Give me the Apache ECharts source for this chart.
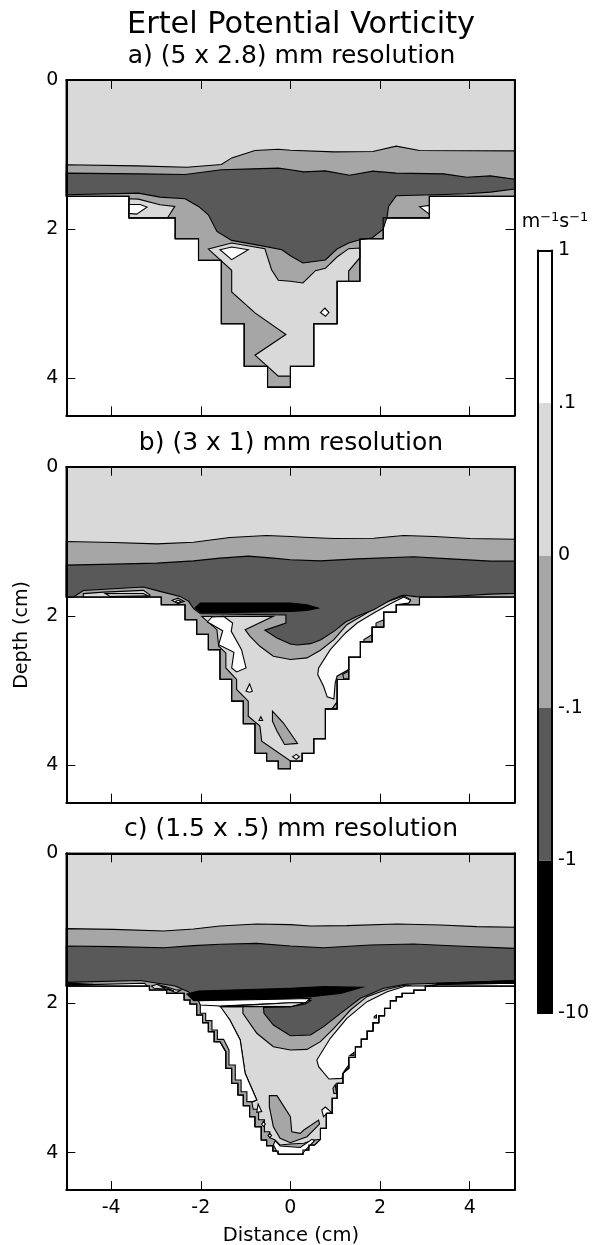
<!DOCTYPE html>
<html><head><meta charset="utf-8">
<style>html,body{margin:0;padding:0;background:#fff}#c{width:592px;height:1245px}</style>
<script src="https://cdn.jsdelivr.net/npm/echarts@6/dist/echarts.min.js"></script>
</head><body><div id="c"></div>
<script>
const WHITE='#ffffff',LIGHT='#d9d9d9',MID='#a6a6a6',DARK='#595959',BLACK='#000000';
const colorbarLabels=['-10','-1','-.1','0','.1','1'];
const colorbarBands=[1,1,1,1,1];
const colorbarColors=[BLACK,DARK,MID,LIGHT,WHITE];
const distanceTicks=[-4,-2,0,2,4];
const depthTicks=[0,2,4];

/* ---------- panel a: [distance cm, depth cm] ---------- */
const aFloor=[[5,1.56],[3.1,1.56],[3.1,1.85],[2.07,1.85],[2.07,2.13],[1.55,2.13],[1.55,2.70],[1.04,2.70],[1.04,3.27],[.52,3.27],[.52,3.84],[0,3.84],[0,4.12],[-.51,4.12],[-.51,3.84],[-1.03,3.84],[-1.03,3.27],[-1.54,3.27],[-1.54,2.42],[-2.05,2.42],[-2.05,2.13],[-2.57,2.13],[-2.57,1.85],[-3.6,1.85],[-3.6,1.56],[-5,1.56]];
const aMidTop=[[-5,1.138],[-3.43,1.152],[-2.31,1.17],[-1.54,1.134],[-1.31,1.045],[-.79,.946],[-.27,.929],[0,.942],[.97,.964],[1.84,.96],[2.36,.888],[2.88,.946],[5,.951]];
const aDarkTop=[[-5,1.25],[-3.39,1.259],[-2.35,1.268],[-1.54,1.205],[-.83,1.192],[-.27,1.183],[0,1.205],[.3,1.232],[.78,1.219],[1.32,1.277],[1.84,1.223],[2.36,1.25],[3.42,1.259],[3.94,1.304],[4.46,1.286],[5,1.33]];
const aDarkBottom=[[5,1.464],[4.46,1.504],[3.94,1.527],[3.42,1.536],[2.36,1.554],[2.19,1.696],[2.16,1.83],[2.07,2.0],[1.82,2.12],[1.55,2.143],[1.3,2.188],[1.04,2.268],[.78,2.415],[.28,2.455],[0,2.357],[-.19,2.277],[-.57,2.232],[-1.31,2.152],[-1.64,2.031],[-1.83,1.808],[-2.05,1.696],[-2.35,1.594],[-2.91,1.571],[-3.39,1.518],[-5,1.54]];
const aLightLower=[[1.55,2.254],[1.3,2.263],[1.04,2.375],[.78,2.527],[.56,2.558],[.28,2.723],[0,2.7],[-.27,2.688],[-.42,2.545],[-.57,2.263],[-1.31,2.188],[-1.83,2.268],[-1.31,2.554],[-1.31,2.844],[-.79,3.125],[-.1,3.415],[-.79,3.692],[-.27,3.973],[0,3.973],[0,3.84],[.52,3.84],[.52,3.27],[1.04,3.27],[1.04,2.7],[1.3,2.7],[1.3,2.563],[1.55,2.384]];
const aLightLeft=[[-3.6,1.594],[-3.39,1.598],[-2.91,1.674],[-2.58,1.696],[-2.74,1.848],[-3.6,1.848]];
const aWhiteLeft=[[-3.6,1.67],[-3.35,1.67],[-3.2,1.705],[-3.43,1.8],[-3.6,1.79]];
const aWhiteCentre=[[-1.57,2.277],[-1.31,2.241],[-.94,2.277],[-1.31,2.41]];
const aWhiteDot=[[.67,3.12],[.77,3.06],[.86,3.12],[.78,3.17]];
const aWhiteRight=[[2.88,1.7],[3.1,1.683],[3.1,1.8]];

/* ---------- panel b ---------- */
const bFloor=[[5,1.746],[2.88,1.746],[2.88,1.849],[2.36,1.849],[2.36,1.947],[2.08,1.947],[2.08,2.147],[1.82,2.147],[1.82,2.343],[1.56,2.343],[1.56,2.548],[1.3,2.548],[1.3,2.851],[1.04,2.851],[1.04,3.243],[.78,3.243],[.78,3.644],[.52,3.644],[.52,3.84],[.26,3.84],[.26,3.942],[0,3.942],[0,4.045],[-.27,4.045],[-.27,3.942],[-.53,3.942],[-.53,3.84],[-.79,3.84],[-.79,3.443],[-1.05,3.443],[-1.05,3.14],[-1.31,3.14],[-1.31,2.846],[-1.57,2.846],[-1.57,2.45],[-1.83,2.45],[-1.83,2.245],[-2.09,2.245],[-2.09,2.049],[-2.35,2.049],[-2.35,1.849],[-2.88,1.849],[-2.88,1.746],[-5,1.746]];
const bMidTop=[[-5,1.002],[-3.95,1.016],[-2.98,1.033],[-2.16,1.011],[-1.35,.949],[-.53,.922],[0,.935],[.3,.944],[.97,.962],[1.86,.958],[2.53,.922],[3.2,.935],[4.01,.962],[5,.971]];
const bDarkTop=[[-5,1.318],[-3.95,1.305],[-2.98,1.292],[-2.16,1.261],[-1.57,1.225],[-.94,1.198],[-.38,1.225],[0,1.247],[.67,1.261],[1.49,1.234],[2.75,1.207],[3.57,1.234],[4.46,1.265],[5,1.265]];
const bDarkBottom=[[5,1.697],[4.46,1.706],[3.94,1.724],[3.42,1.742],[2.88,1.746],[2.75,1.737],[2.51,1.719],[2.23,1.79],[1.86,1.915],[1.49,2.004],[1.23,2.08],[.97,2.205],[.67,2.32],[.45,2.37],[.15,2.388],[0,2.374],[-.3,2.294],[-.57,2.19],[-.1,2.094],[-.1,1.987],[-2.01,1.969],[-2.16,1.902],[-2.27,1.804],[-2.46,1.737],[-2.91,1.67],[-3.28,1.612],[-4.62,1.657],[-4.84,1.746],[-5,1.746]];
const bLightLens=[[-4.62,1.7],[-4.17,1.68],[-3.28,1.657],[-3.13,1.72],[-3.17,1.746],[-4.62,1.746]];
const bWhiteLens=[[-4.13,1.7],[-3.28,1.7],[-3.17,1.73],[-4.02,1.737]];
const bLightDiamond=[[-2.64,1.79],[-2.51,1.76],[-2.37,1.804],[-2.51,1.835]];
const bWhiteDiamond=[[-2.56,1.804],[-2.51,1.786],[-2.44,1.804],[-2.51,1.826]];
const bLightBody=[[2.53,1.73],[2.08,1.826],[1.6,1.996],[1.26,2.116],[.97,2.316],[.67,2.459],[.37,2.561],[0,2.583],[-.38,2.539],[-.68,2.405],[-.9,2.272],[-1.01,2.183],[-.38,2.004],[-1.98,2.004],[-1.64,2.183],[-1.6,2.405],[-1.44,2.494],[-1.44,2.695],[-1.2,2.85],[-1.2,2.984],[-.94,3.14],[-.94,3.341],[-.68,3.474],[-.64,3.675],[0,3.942],[.26,3.942],[.26,3.84],[.52,3.84],[.52,3.644],[.78,3.644],[.78,3.243],[.93,3.243],[1.04,3.154],[1.04,2.851],[1.02,2.806],[1.3,2.717],[1.3,2.548],[1.56,2.548],[1.56,2.343],[1.82,2.343],[1.82,2.147],[2.08,2.147],[2.08,1.947],[2.36,1.947],[2.36,1.849],[2.64,1.826],[2.68,1.782]];
const bWhiteRight=[[2.53,1.746],[2.23,1.835],[1.86,1.96],[1.49,2.094],[1.23,2.227],[.89,2.45],[.63,2.695],[.61,2.784],[.74,2.94],[.82,3.082],[.97,3.11],[1,2.895],[1.04,2.806],[1.3,2.717],[1.3,2.548],[1.56,2.548],[1.56,2.343],[1.82,2.343],[1.82,2.147],[2.08,2.147],[2.08,1.947],[2.36,1.947],[2.36,1.849],[2.64,1.826],[2.68,1.79]];
const bMidStep1=[[1.19,2.842],[1.3,2.842],[1.3,2.74],[1.17,2.78]];
const bMidStep2=[[1.64,2.343],[1.82,2.343],[1.82,2.25],[1.64,2.316]];
const bMidStep3=[[1.91,2.147],[2.08,2.147],[2.08,2.05],[1.91,2.094]];
const bMidStep4=[[.93,3.243],[1.04,3.243],[1.04,3.154]];
const bWhiteBlob=[[-1.85,2.08],[-1.75,2.013],[-1.49,2.004],[-1.29,2.094],[-1.32,2.205],[-1.09,2.45],[-.99,2.695],[-1.2,2.748],[-1.31,2.695],[-1.26,2.485],[-1.6,2.383],[-1.51,2.196]];
const bWhiteDot1=[[-.91,2.909],[-.85,3.006],[-.91,3.02],[-.99,3.006]];
const bWhiteDot2=[[-.66,3.35],[-.62,3.4],[-.7,3.4]];
const bWhiteDot3=[[.13,3.853],[.2,3.884],[.13,3.92],[.05,3.884]];
const bMidBlob=[[-.4,3.274],[-.16,3.43],[.16,3.706],[-.13,3.72],[-.3,3.541],[-.4,3.408]];
const bBlackBand=[[-2.13,1.893],[-2.01,1.826],[0,1.826],[.37,1.849],[.62,1.893],[.37,1.924],[0,1.938],[-1.98,1.96]];

/* ---------- panel c ---------- */
const cFloor=[[5,1.773],[3.01,1.773],[3.01,1.826],[2.75,1.826],[2.75,1.871],[2.49,1.871],[2.49,1.915],[2.36,1.915],[2.36,1.969],[2.23,1.969],[2.23,2.071],[2.1,2.071],[2.1,2.169],[1.97,2.169],[1.97,2.263],[1.84,2.263],[1.84,2.374],[1.71,2.374],[1.71,2.481],[1.58,2.481],[1.58,2.584],[1.45,2.584],[1.45,2.726],[1.3,2.726],[1.3,2.873],[1.17,2.94],[1.17,3.073],[1.04,3.073],[1.04,3.274],[.93,3.274],[.93,3.474],[.8,3.474],[.8,3.675],[.67,3.675],[.67,3.822],[.54,3.898],[.41,3.898],[.41,3.964],[.28,3.964],[.28,4.022],[-.27,4.022],[-.27,3.978],[-.39,3.978],[-.39,3.906],[-.53,3.906],[-.53,3.831],[-.65,3.831],[-.65,3.653],[-.79,3.653],[-.79,3.519],[-.91,3.519],[-.91,3.372],[-1.05,3.372],[-1.05,3.229],[-1.17,3.229],[-1.17,3.073],[-1.31,3.073],[-1.31,2.873],[-1.44,2.873],[-1.44,2.65],[-1.57,2.517],[-1.7,2.517],[-1.7,2.383],[-1.83,2.383],[-1.83,2.263],[-1.96,2.263],[-1.96,2.16],[-2.09,2.16],[-2.09,2.013],[-2.24,2.013],[-2.24,1.96],[-2.37,1.96],[-2.37,1.871],[-2.76,1.871],[-2.76,1.826],[-3.145,1.826],[-3.145,1.773],[-5,1.773]];
const cMidTop=[[-5,1.007],[-3.95,1.016],[-2.83,1.038],[-2.16,1.011],[-1.57,.971],[-.75,.944],[0,.953],[.45,.971],[1.26,.967],[2.38,.944],[3.35,.958],[4.16,.98],[5,.989]];
const cDarkTop=[[-5,1.238],[-3.95,1.247],[-2.83,1.261],[-2.16,1.234],[-1.57,1.216],[-.75,1.203],[-.0,1.238],[.74,1.261],[1.78,1.225],[2.75,1.212],[3.72,1.238],[5,1.27]];
const cDarkBottom=[[5,1.7],[3.27,1.737],[2.57,1.75],[2.08,1.804],[1.56,1.938],[1.12,2.138],[.74,2.316],[.45,2.428],[0,2.437],[-.38,2.294],[-.59,2.138],[-.6,2.058],[0,2.049],[.33,2.013],[.45,1.969],[0,1.947],[-2.05,1.969],[-2.28,1.849],[-2.57,1.773],[-3.35,1.7],[-5,1.724]];
const cLightBody=[[-1.58,2.049],[-1.06,2.049],[-1.06,2.138],[-.75,2.405],[-.38,2.584],[0,2.628],[.37,2.62],[.67,2.517],[.97,2.339],[1.34,2.094],[1.71,1.915],[2.16,1.817],[2.57,1.759],[2.75,1.782],[2.75,1.871],[2.49,1.871],[2.49,1.915],[2.36,1.915],[2.36,1.969],[2.23,1.969],[2.23,2.071],[2.1,2.071],[2.1,2.169],[1.97,2.169],[1.97,2.263],[1.84,2.263],[1.84,2.374],[1.71,2.374],[1.71,2.481],[1.58,2.481],[1.58,2.584],[1.45,2.584],[1.45,2.726],[1.3,2.726],[1.3,2.873],[1.17,2.94],[1.17,3.073],[1.04,3.073],[1.04,3.274],[.93,3.274],[.93,3.474],[.8,3.474],[.8,3.675],[.67,3.675],[.67,3.822],[.52,3.831],[.3,3.875],[0,3.884],[-.23,3.898],[-.34,3.831],[-.46,3.8],[-.46,3.72],[-.58,3.72],[-.58,3.56],[-.71,3.56],[-.71,3.42],[-.83,3.42],[-.86,3.327],[-.75,3.296],[-1.01,2.94],[-1.12,2.494],[-1.35,2.227]];
const cWhiteLeft=[[-2.05,1.969],[-1.57,2.04],[-1.35,2.227],[-1.12,2.494],[-1.01,2.94],[-.75,3.296],[-.84,3.318],[-.97,3.318],[-.97,3.185],[-1.1,3.185],[-1.1,3.029],[-1.23,3.029],[-1.23,2.829],[-1.37,2.829],[-1.37,2.628],[-1.49,2.486],[-1.63,2.486],[-1.63,2.36],[-1.75,2.36],[-1.75,2.236],[-1.89,2.236],[-1.89,2.138],[-2.01,2.138],[-2.01,2.013]];
const cWhiteRight=[[2.57,1.773],[2.16,1.849],[1.71,1.982],[1.26,2.205],[.89,2.472],[.59,2.762],[.63,2.851],[.86,3.016],[1.15,3.007],[1.17,2.94],[1.3,2.873],[1.3,2.726],[1.45,2.726],[1.45,2.584],[1.58,2.584],[1.58,2.481],[1.71,2.481],[1.71,2.374],[1.84,2.374],[1.84,2.263],[1.97,2.263],[1.97,2.169],[2.1,2.169],[2.1,2.071],[2.23,2.071],[2.23,1.969],[2.36,1.969],[2.36,1.915],[2.49,1.915],[2.49,1.871],[2.75,1.871],[2.75,1.826],[3.01,1.826],[3.01,1.773]];
const cWhiteLensRight=[[3.31,1.751],[5,1.737],[5,1.773],[3.01,1.773]];
const cBlackRight=[[3.27,1.737],[5,1.7],[5,1.737],[3.31,1.751]];
const cWhiteLensLeft=[[-4.5,1.755],[-3.25,1.737],[-3.2,1.773],[-5,1.773],[-5,1.76]];
const cBlackLeft=[[-5,1.735],[-4.4,1.75],[-5,1.76]];
const cFleckLight=[[-3.1,1.773],[-2.97,1.75],[-2.74,1.79],[-2.55,1.826],[-2.44,1.826],[-2.55,1.862],[-2.74,1.817],[-3.04,1.804]];
const cFleckWhite=[[-2.9,1.775],[-2.75,1.8],[-2.6,1.84],[-2.8,1.81]];
const cBlackBand=[[-2.31,1.88],[-2.05,1.84],[0,1.804],[.74,1.782],[1.6,1.79],[1.12,1.871],[.45,1.915],[0,1.938],[-2.05,1.969],[-2.16,1.969]];
const cWhiteSliver=[[-2.05,1.969],[0,1.947],[.45,1.938],[.33,1.996],[0,1.996],[-1.57,2.04],[-2.01,2.027]];
const cLightSliver=[[-1.58,2.049],[0,1.996],[.33,1.996],[0,2.049]];
const cMidBlob=[[-.47,3.238],[-.3,3.238],[0,3.519],[.03,3.72],[.22,3.742],[.3,3.697],[.63,3.564],[.65,3.617],[.37,3.786],[0,3.866],[-.23,3.808],[-.38,3.653],[-.47,3.385]];
const cWhiteBottom=[[-.34,3.84],[-.23,3.911],[.22,3.93],[.48,3.822],[.54,3.84],[.37,3.942],[.26,4.018],[-.27,4.018],[-.38,3.898]];
const cDot1=[[-.72,3.35],[-.64,3.45],[-.75,3.46]];
const cDot2=[[-.6,3.58],[-.56,3.62],[-.6,3.65],[-.64,3.62]];
const cDot3=[[-.46,3.74],[-.42,3.77],[-.46,3.8],[-.5,3.77]];
const cRightDrop=[[.97,3.21],[.95,3.14],[1,3.09],[1.03,3.21]];
const cWhiteNotch=[[.7,3.43],[.78,3.39],[.93,3.47],[.82,3.47],[.74,3.52]];
const cMidStep1=[[1.87,2.2],[1.92,2.2],[1.92,2.16],[1.87,2.18]];
const cMidStep2=[[1.33,2.7],[1.42,2.7],[1.42,2.66]];
const cMidStep3=[[1.21,2.9],[1.3,2.87],[1.3,2.83]];

const panelA=[[[[-5,0],[5,0]].concat(aFloor),LIGHT],[aMidTop.concat(aFloor),MID],[aLightLower,LIGHT],[aLightLeft,LIGHT],[aDarkTop.concat(aDarkBottom),DARK],[aWhiteLeft,WHITE],[aWhiteCentre,WHITE],[aWhiteDot,WHITE],[aWhiteRight,WHITE],[[[-5,0],[5,0]].concat(aFloor),'none']];
const panelB=[[[[-5,0],[5,0]].concat(bFloor),LIGHT],[bMidTop.concat(bFloor),MID],[bLightBody,LIGHT],[bWhiteRight,WHITE],[bMidStep1,MID],[bMidStep2,MID],[bMidStep3,MID],[bMidStep4,MID],[bDarkTop.concat(bDarkBottom),DARK],[bLightLens,LIGHT],[bWhiteLens,WHITE],[bLightDiamond,LIGHT],[bWhiteDiamond,WHITE],[bBlackBand,BLACK],[bWhiteBlob,WHITE],[bWhiteDot1,WHITE],[bWhiteDot2,WHITE],[bWhiteDot3,WHITE],[bMidBlob,MID],[[[-5,0],[5,0]].concat(bFloor),'none']];
const panelC=[[[[-5,0],[5,0]].concat(cFloor),LIGHT],[cMidTop.concat(cFloor),MID],[cLightBody,LIGHT],[cWhiteLeft,WHITE],[cWhiteRight,WHITE],[cMidStep1,MID],[cMidStep2,MID],[cMidStep3,MID],[cDarkTop.concat(cDarkBottom),DARK],[cWhiteLensRight,WHITE],[cBlackRight,BLACK],[cWhiteLensLeft,WHITE],[cBlackLeft,BLACK],[cFleckLight,LIGHT],[cFleckWhite,WHITE],[cBlackBand,BLACK],[cWhiteSliver,WHITE],[cLightSliver,LIGHT],[cMidBlob,MID],[cWhiteBottom,WHITE],[cDot1,WHITE],[cDot2,WHITE],[cDot3,WHITE],[cRightDrop,MID],[cWhiteNotch,WHITE],[[[-5,0],[5,0]].concat(cFloor),'none']];
const panels=[panelA,panelB,panelC];
const panelBoxes=[{top:80,height:335.4},{top:466.7,height:336},{top:853.3,height:336.8}];

const FONT='DejaVu Sans';
const grids=[],xAxes=[],yAxes=[],series=[];
panelBoxes.forEach((box,i)=>{
  grids.push({left:66.3,width:448.2,top:box.top,height:box.height,containLabel:false});
  const line={show:true,onZero:false,lineStyle:{color:'#000',width:2}};
  const tick=(vals)=>({show:true,inside:true,length:9,customValues:vals,lineStyle:{color:'#000',width:1}});
  xAxes.push({gridIndex:i,type:'value',min:-5,max:5,position:'bottom',z:10,axisLine:line,axisTick:tick(distanceTicks),splitLine:{show:false},
    axisLabel:{show:i===2,customValues:distanceTicks,margin:8,color:'#000',fontFamily:FONT,fontSize:19,formatter:v=>String(v)}});
  xAxes.push({gridIndex:i,type:'value',min:-5,max:5,position:'top',z:10,axisLine:line,axisTick:tick(distanceTicks),splitLine:{show:false},axisLabel:{show:false}});
  yAxes.push({gridIndex:i,type:'value',min:0,max:4.5,inverse:true,position:'left',z:10,axisLine:line,axisTick:tick(depthTicks),splitLine:{show:false},
    axisLabel:{show:true,customValues:depthTicks,margin:8,color:'#000',fontFamily:FONT,fontSize:19,formatter:v=>String(v)}});
  yAxes.push({gridIndex:i,type:'value',min:0,max:4.5,inverse:true,position:'right',z:10,axisLine:line,axisTick:tick(depthTicks),splitLine:{show:false},axisLabel:{show:false}});
  const layers=panels[i];
  series.push({type:'custom',xAxisIndex:i*2,yAxisIndex:i*2,z:2,silent:true,clip:false,
    data:layers.map(()=>[0,0]),
    renderItem:(params,api)=>{
      const l=layers[params.dataIndex];
      return {type:'polygon',shape:{points:l[0].map(p=>api.coord(p))},style:{fill:l[1],stroke:'#000',lineWidth:1.1,lineJoin:'miter'}};
    }});
});

/* colour bar */
grids.push({left:538,width:14,top:250.5,height:762.5});
xAxes.push({gridIndex:3,type:'category',data:['PV'],position:'bottom',z:10,axisLine:{show:true,onZero:false,lineStyle:{color:'#000',width:2}},axisTick:{show:false},axisLabel:{show:false}});
xAxes.push({gridIndex:3,type:'category',data:['PV'],position:'top',z:10,axisLine:{show:true,onZero:false,lineStyle:{color:'#000',width:2}},axisTick:{show:false},axisLabel:{show:false}});
yAxes.push({gridIndex:3,type:'value',min:0,max:5,interval:1,position:'right',z:10,axisLine:{show:true,onZero:false,lineStyle:{color:'#000',width:2}},axisTick:{show:false},splitLine:{show:false},
  axisLabel:{show:true,margin:6,color:'#000',fontFamily:FONT,fontSize:19,formatter:v=>colorbarLabels[v]}});
yAxes.push({gridIndex:3,type:'value',min:0,max:5,interval:1,position:'left',z:10,axisLine:{show:true,onZero:false,lineStyle:{color:'#000',width:2}},axisTick:{show:false},splitLine:{show:false},axisLabel:{show:false}});
colorbarBands.forEach((v,k)=>{
  series.push({type:'bar',xAxisIndex:6,yAxisIndex:6,stack:'cb',barWidth:'100%',silent:true,data:[v],itemStyle:{color:colorbarColors[k]}});
});

const T=(text,x,y,size,extra)=>Object.assign({text,left:x,top:y,textAlign:'center',textVerticalAlign:'middle',padding:0,
  textStyle:{fontFamily:FONT,fontSize:size,fontWeight:'normal',color:'#000'}},extra||{});
const titles=[
  T('Ertel Potential Vorticity',301,25,30.4),
  T('a) (5 x 2.8) mm resolution',291.5,56,25),
  T('b) (3 x 1) mm resolution',291,443,25),
  T('c) (1.5 x .5) mm resolution',291,829,25),
  T('Distance (cm)',291,1236,19.5),
  {text:'{b|m}{s|−1}{b|s}{s|−1}',left:555,top:222,textAlign:'center',textVerticalAlign:'middle',padding:0,
   textStyle:{fontWeight:'normal',rich:{b:{fontFamily:FONT,fontSize:19,fontWeight:'normal',color:'#000'},s:{fontFamily:FONT,fontSize:13,fontWeight:'normal',color:'#000',padding:[0,0,8,0]}}}}
];
const chart=echarts.init(document.getElementById('c'),null,{renderer:'canvas',width:592,height:1245});
chart.setOption({animation:false,backgroundColor:'#fff',title:titles,grid:grids,xAxis:xAxes,yAxis:yAxes,series,
  graphic:[{type:'text',x:22,y:635,rotation:Math.PI/2,style:{text:'Depth (cm)',fontFamily:FONT,fontSize:19,fill:'#000',align:'center',verticalAlign:'middle'}}]});
</script></body></html>
